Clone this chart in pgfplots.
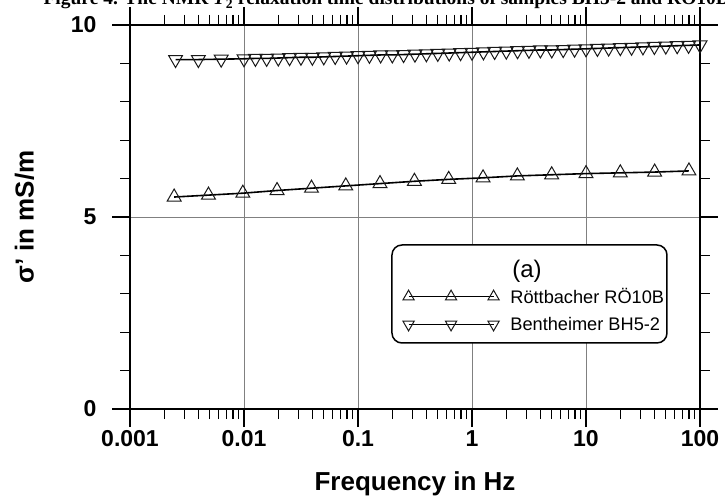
\documentclass[border=0pt]{standalone}
\usepackage{pgfplots}
\pgfplotsset{compat=1.18}
\usepackage{fontspec}
\setmainfont{Liberation Sans}
\newfontfamily\titlefont{Liberation Serif}

\pgfplotstableread{
f y
0.00244 5.52
0.00488 5.57
0.00977 5.62
0.0195 5.69
0.0391 5.75
0.0781 5.81
0.156 5.87
0.3125 5.93
0.625 5.98
1.25 6.02
2.5 6.07
5 6.10
10 6.13
20 6.15
40 6.17
80 6.20
}\roett

\pgfplotstableread{
f y
0.00251 9.10
0.00398 9.10
0.00631 9.11
0.01 9.12
0.0126 9.13
0.0158 9.13
0.02 9.14
0.0251 9.15
0.0316 9.16
0.0398 9.16
0.0501 9.17
0.0631 9.18
0.0794 9.19
0.1 9.20
0.126 9.21
0.158 9.22
0.2 9.22
0.251 9.23
0.316 9.24
0.398 9.25
0.501 9.26
0.631 9.27
0.794 9.28
1 9.29
1.26 9.30
1.58 9.31
2 9.32
2.51 9.33
3.16 9.34
3.98 9.35
5.01 9.35
6.31 9.36
7.94 9.37
10 9.38
12.6 9.39
15.8 9.40
20 9.41
25.1 9.42
31.6 9.43
39.8 9.44
50.1 9.45
63.1 9.46
79.4 9.47
100 9.48
}\benth

\begin{document}
\begin{tikzpicture}
\begin{axis}[
  at={(0pt,0pt)}, anchor=south west,
  scale only axis, width=570pt, height=384pt,
  xmode=log, log basis x=10,
  xmin=0.001, xmax=100, ymin=0, ymax=10,
  xtick={0.001,0.01,0.1,1,10,100},
  xticklabels={0.001,0.01,0.1,1,10,100},
  minor xtick={0.002,0.003,0.004,0.005,0.006,0.007,0.008,0.009,
    0.02,0.03,0.04,0.05,0.06,0.07,0.08,0.09,
    0.2,0.3,0.4,0.5,0.6,0.7,0.8,0.9,
    2,3,4,5,6,7,8,9,20,30,40,50,60,70,80,90},
  ytick={0,5,10}, yticklabels={0,5,10},
  minor ytick={1,2,3,4,6,7,8,9},
  /pgf/number format/assume math mode=true,
  tick align=outside,
  major tick length=18pt, minor tick length=10pt,
  every tick/.style={black, line width=1.3pt},
  axis line style={black, line width=1.5pt},
  xmajorgrids, ymajorgrids,
  major grid style={gray, line width=0.8pt},
  ticklabel style={font=\fontsize{23}{26}\selectfont\bfseries},
  yticklabel style={xshift=-12pt},
  xlabel={Frequency in Hz},
  ylabel={σ’ in mS/m},
  label style={font=\fontsize{26}{30}\selectfont\bfseries},
  xlabel style={at={(axis description cs:0.5,-0.195)}, anchor=center},
  ylabel style={at={(axis description cs:-0.185,0.5)}, anchor=center},
  legend cell align=left,
  legend style={draw=none, fill=none, inner sep=0pt,
    at={(axis description cs:0.4785,0.32)}, anchor=north west,
    font=\fontsize{18.2}{21}\selectfont, row sep=8pt},
  legend image code/.code={
    \draw[#1, mark repeat=1, mark size=6.5pt] plot coordinates {(0pt,0pt) (42.5pt,0pt) (85pt,0pt)};
    \path (99pt,0pt);
  },
]
\draw[fill=white, line width=1.5pt, rounded corners=10pt]
  (rel axis cs:0.4596,0.1719) rectangle (rel axis cs:0.9421,0.4271);
\node[font=\fontsize{24}{28}\selectfont] at (rel axis cs:0.6965,0.358) {(a)};

\addplot[black, line width=1.6pt, mark=triangle, mark size=8pt,
  mark options={solid, draw=black!90, line width=1pt, fill=none}]
  table[x=f, y=y] {\roett};
\addlegendentry{Röttbacher RÖ10B}

\addplot[black, line width=1.6pt, mark=triangle, mark size=8pt,
  mark options={solid, draw=black!90, line width=1pt, fill=none, rotate=180}]
  table[x=f, y=y] {\benth};
\addlegendentry{Bentheimer BH5-2}
\end{axis}
\node[anchor=base west, font=\titlefont\bfseries\fontsize{19.5}{22}\selectfont]
  at (-90pt,404pt) {Figure 4. The NMR \textit{T}\textsubscript{2} relaxation time distributions of samples BH5-2 and RÖ10B};
\pgfresetboundingbox
\useasboundingbox (-130pt,-91pt) rectangle (595pt,409pt);
\end{tikzpicture}
\end{document}
